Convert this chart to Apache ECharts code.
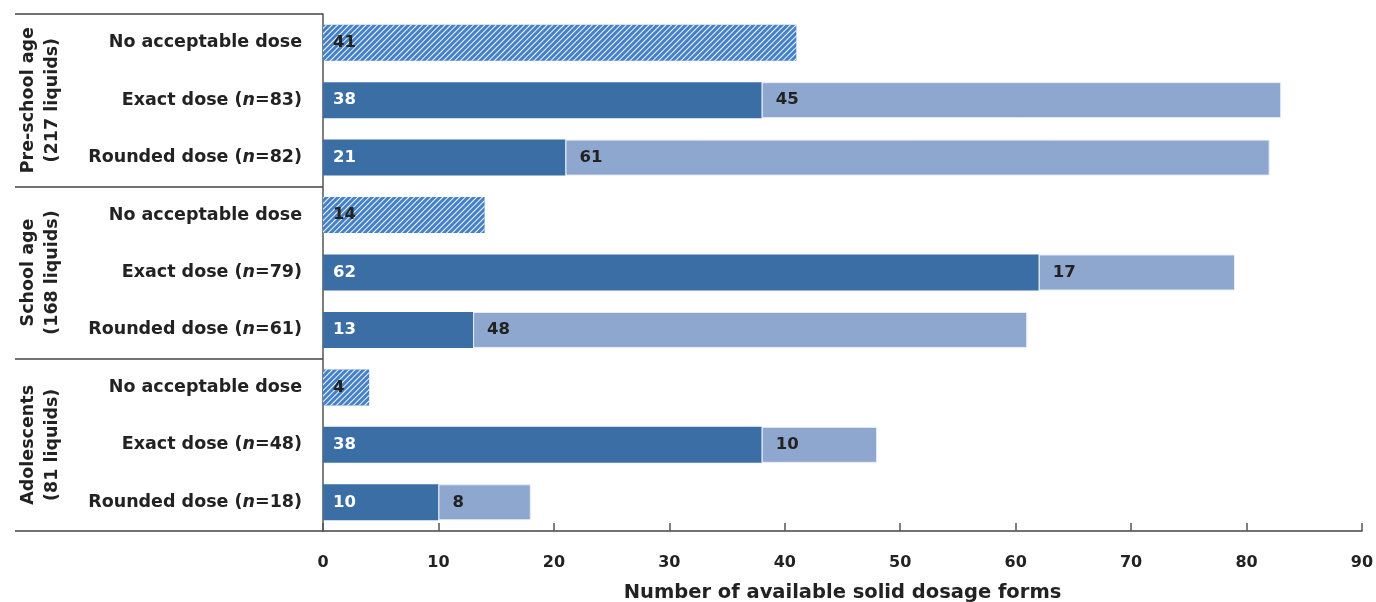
<!DOCTYPE html>
<html><head><meta charset="utf-8">
<script src="https://cdn.jsdelivr.net/npm/echarts@6/dist/echarts.min.js"></script>
<style>html,body{margin:0;padding:0;background:#fff}#c{width:1376px;height:602px}</style>
</head><body><div id="c"></div>
<script>
const categories = [
  'No acceptable dose', 'Exact dose (n=83)', 'Rounded dose (n=82)',
  'No acceptable dose', 'Exact dose (n=79)', 'Rounded dose (n=61)',
  'No acceptable dose', 'Exact dose (n=48)', 'Rounded dose (n=18)'
];
const groups = ['Pre-school age\n(217 liquids)', 'School age\n(168 liquids)', 'Adolescents\n(81 liquids)'];
const noDose   = [41, '-', '-', 14, '-', '-', 4, '-', '-'];
const darkPart = ['-', 38, 21, '-', 62, 13, '-', 38, 10];
const lightPart= ['-', 45, 61, '-', 17, 48, '-', 10, 8];
const xTicks = [0, 10, 20, 30, 40, 50, 60, 70, 80, 90];

const FONT = '"DejaVu Sans"';
const W = 'bold';
const chart = echarts.init(document.getElementById('c'));
const labelBase = {show: true, position: 'insideLeft', fontFamily: FONT, fontWeight: W, fontSize: 16.5};
chart.setOption({
  animation: false,
  grid: {left: 323, right: 14, top: 14, bottom: 71, outerBoundsMode: 'none', containLabel: false},
  xAxis: {
    type: 'value', min: xTicks[0], max: xTicks[xTicks.length - 1], interval: 10,
    splitLine: {show: false},
    axisLine: {show: true, lineStyle: {color: '#444', width: 1.5}},
    axisTick: {show: true, inside: true, length: 8, lineStyle: {color: '#555', width: 1.5}},
    axisLabel: {margin: 24, fontFamily: FONT, fontWeight: W, fontSize: 16, color: '#222'},
    name: 'Number of available solid dosage forms', nameLocation: 'middle', nameGap: 52,
    nameTextStyle: {fontFamily: FONT, fontWeight: W, fontSize: 19.5, color: '#222'}
  },
  yAxis: [{
    type: 'category', data: categories, inverse: true,
    axisLine: {show: true, lineStyle: {color: '#555', width: 1.5}},
    axisTick: {show: false},
    axisLabel: {
      interval: 0,
      margin: 21, fontFamily: FONT, fontWeight: W, fontSize: 17.5, color: '#222',
      formatter: v => v.replace('(n=', '({i|n}='),
      rich: {i: {fontFamily: FONT, fontWeight: W, fontStyle: 'italic', fontSize: 17.5, color: '#222'}}
    }
  }, {
    type: 'category', data: groups, inverse: true, position: 'left', offset: 308,
    axisLine: {show: false},
    axisTick: {show: true, interval: 0, inside: true, length: 308, lineStyle: {color: '#444', width: 1.5}},
    axisLabel: {
      interval: 0, hideOverlap: false,
      inside: true, rotate: 90, margin: 25, align: 'center', verticalAlign: 'middle',
      fontFamily: FONT, fontWeight: W, fontSize: 17.5, lineHeight: 24, color: '#222'
    }
  }],
  series: [{
    name: 'No acceptable dose', type: 'bar', stack: 's', data: noDose, barWidth: 36,
    itemStyle: {color: '#4481c6', decal: {symbol: 'rect', symbolSize: 1, color: 'rgba(255,255,255,0.95)', dashArrayX: [1, 0], dashArrayY: [1, 2.2], rotation: -Math.PI / 4}},
    label: Object.assign({}, labelBase, {distance: 10, color: '#222'})
  }, {
    name: 'Dark', type: 'bar', stack: 's', data: darkPart, barWidth: 36,
    itemStyle: {color: '#3a6ea5'},
    label: Object.assign({}, labelBase, {distance: 10, color: '#fff'})
  }, {
    name: 'Light', type: 'bar', stack: 's', data: lightPart, barWidth: 36,
    itemStyle: {color: '#8ea7cf', borderColor: '#e8eef7', borderWidth: 1},
    label: Object.assign({}, labelBase, {distance: 14, color: '#222'})
  }]
});
</script></body></html>
